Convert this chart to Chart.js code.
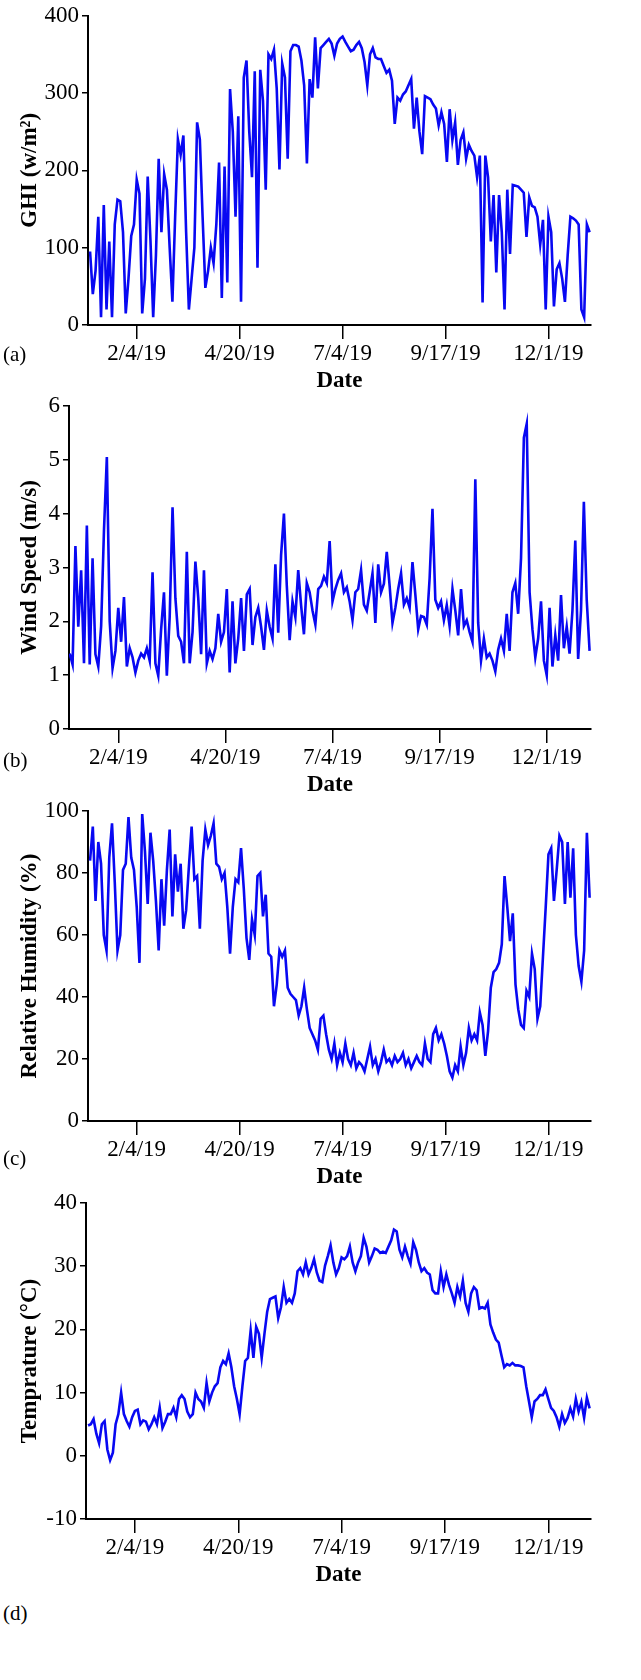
<!DOCTYPE html>
<html>
<head>
<meta charset="utf-8">
<script src="https://cdn.jsdelivr.net/npm/chart.js@4.4.1/dist/chart.umd.min.js"></script>
<style>
  body { margin: 0; background: #fff; width: 641px; height: 1680px; position: relative; overflow: hidden; font-family: "Liberation Serif", serif; }
  .box { position: absolute; left: 0; width: 641px; }
  .tag { position: absolute; left: 3px; font-size: 21px; line-height: 22px; color: #000; }
</style>
</head>
<body>
<div class="box" style="top:0px;height:397px"><canvas id="ghiChart"></canvas></div>
<div class="box" style="top:386px;height:415px"><canvas id="windChart"></canvas></div>
<div class="box" style="top:791px;height:402px"><canvas id="rhChart"></canvas></div>
<div class="box" style="top:1183px;height:408px"><canvas id="tempChart"></canvas></div>
<div class="tag" style="top:343px">(a)</div>
<div class="tag" style="top:749px">(b)</div>
<div class="tag" style="top:1147px">(c)</div>
<div class="tag" style="top:1602px">(d)</div>
<script>
// one reading every 2 days, starting 1 Jan 2019
var startDate = '2019-01-01';
var stepDays = 2;
var tickDates = ['2019-02-04', '2019-04-20', '2019-07-04', '2019-09-17', '2019-12-01'];
var tickLabels = ['2/4/19', '4/20/19', '7/4/19', '9/17/19', '12/1/19'];

var ghi = [
  95,40,70,140,10,155,20,108,10,130,
  162,160,120,15,60,115,130,188,170,15,
  60,192,110,10,90,215,120,195,175,100,
  30,140,240,220,245,120,20,60,100,262,
  240,140,48,70,100,80,130,210,35,205,
  55,305,250,140,270,30,320,342,250,191,
  328,74,330,290,175,350,344,356,306,201,
  338,320,215,354,362,362,360,342,310,209,
  318,294,372,306,358,362,366,370,364,348,
  364,370,373,366,360,354,356,362,366,358,
  340,310,350,358,346,344,344,335,326,330,
  316,260,294,290,298,302,310,318,254,294,
  250,221,296,294,292,285,280,258,275,260,
  211,279,239,262,207,239,249,215,233,225,
  219,191,219,29,219,191,108,168,68,168,
  120,20,175,92,181,180,179,175,171,114,
  165,154,152,140,104,136,20,140,120,24,
  72,80,60,30,90,140,138,135,130,20,
  10,130,120
];

var wind = [
  1.4,1.2,3.4,1.9,2.95,1.22,3.78,1.2,3.17,1.39,
  1.16,1.91,3.7,5.05,2.0,1.13,1.45,2.25,1.62,2.45,
  1.16,1.5,1.33,1.05,1.27,1.4,1.33,1.5,1.27,2.91,
  1.22,0.99,1.85,2.54,0.99,2.08,4.12,2.43,1.73,1.62,
  1.22,3.29,1.22,1.8,3.11,2.43,1.39,2.95,1.22,1.45,
  1.3,1.5,2.14,1.62,1.8,2.6,1.05,2.37,1.22,1.68,
  2.43,1.45,2.5,2.6,1.56,2.08,2.25,1.9,1.47,2.2,
  1.9,1.68,3.06,1.79,3.23,4.0,2.66,1.65,2.37,2.08,
  2.95,2.3,1.76,2.71,2.54,2.2,1.94,2.6,2.66,2.83,
  2.71,3.49,2.37,2.6,2.77,2.89,2.54,2.63,2.37,2.02,
  2.54,2.6,2.95,2.31,2.2,2.54,2.89,1.97,3.06,2.54,
  2.7,3.29,2.66,1.97,2.25,2.6,2.89,2.31,2.43,2.25,
  3.1,2.5,1.85,2.1,2.08,1.94,2.8,4.09,2.4,2.25,
  2.37,2.02,2.3,1.91,2.6,2.2,1.74,2.6,1.91,2.02,
  1.8,1.62,4.64,1.97,1.27,1.68,1.33,1.4,1.27,1.07,
  1.47,1.68,1.45,2.14,1.45,2.54,2.71,2.14,3.17,5.41,
  5.67,2.54,1.85,1.33,1.68,2.37,1.27,1.0,2.25,1.16,
  1.74,1.27,2.49,1.5,1.9,1.4,2.2,3.5,1.3,2.2,
  4.22,2.4,1.45
];

var humidity = [
  84,95,71,90,83,60,55,85,96,77,
  55,60,81,83,98,85,81,69,51,99,
  87,70,93,84,71,55,78,63,81,94,
  66,86,74,83,62,68,82,95,78,79,
  62,84,94,89,92,96,83,82,78,80,
  69,54,69,78,77,88,75,59,52,65,
  60,79,80,66,73,54,53,37,44,55,
  53,55,43,41,40,39,34,37,43,36,
  30,28,26,23,33,34,28,23,20,25,
  18,22,19,25,20,18,22,17,19,18,
  16,20,24,18,20,16,19,23,19,20,
  18,21,19,20,22,18,20,17,19,21,
  19,18,25,20,19,28,30,26,28,25,
  21,16,14,18,16,24,18,22,30,26,
  28,26,35,31,21,29,43,48,49,51,
  57,79,69,58,67,44,36,31,30,42,
  40,54,49,33,37,53,69,86,88,71,
  81,92,90,70,90,72,88,60,50,45,
  55,93,72
];

var temperature = [
  4.8,5.0,5.8,3.5,2.0,5.0,5.5,1.0,-0.7,0.5,
  5.0,6.6,10.0,6.6,5.5,4.6,6.1,7.1,7.3,5.0,
  5.6,5.4,4.2,5.0,6.1,5.0,7.6,4.4,5.4,6.6,
  6.6,7.6,6.1,9.0,9.6,9.0,7.0,6.1,6.6,10.0,
  9.0,8.6,7.6,11.5,8.6,10.0,11.0,11.5,14.0,15.0,
  14.5,16.2,14.0,11.0,9.0,6.6,11.0,15.0,15.5,19.8,
  15.5,20.4,19.3,15.5,19.3,22.8,24.8,25.0,25.2,21.8,
  23.5,26.7,24.2,24.8,24.2,25.7,29.2,29.7,28.7,30.6,
  28.7,29.7,31.1,29.0,27.7,27.5,30.1,31.6,33.3,30.6,
  28.7,29.7,31.4,31.1,31.6,33.1,30.6,29.2,30.6,31.6,
  34.5,33.1,30.6,31.6,32.8,32.6,32.1,32.3,32.1,33.1,
  34.1,35.8,35.5,32.6,31.4,33.1,31.6,30.4,33.8,32.6,
  30.6,29.2,29.7,29.0,28.7,26.2,25.7,25.7,29.2,26.7,
  28.7,27.0,25.7,24.2,26.7,25.2,27.7,24.2,22.8,25.7,
  26.7,26.2,23.3,23.5,23.3,24.2,20.8,19.5,18.4,17.9,
  15.9,14.0,14.5,14.3,14.7,14.3,14.3,14.2,14.0,11.0,
  8.6,6.1,8.6,9.0,9.6,9.6,10.5,9.0,7.6,7.1,
  6.1,4.6,6.6,5.2,6.0,7.5,6.2,9.0,7.0,8.5,
  6.0,9.2,7.5
];

function dayOf(s) {
  return Math.round((Date.parse(s) - Date.parse(startDate)) / 86400000);
}
var tickDays = tickDates.map(dayOf);

var fam = '"Liberation Serif", serif';
var boldFont = { family: fam, size: 23, weight: 'bold' };

function makePanel(id, values, yTitle, yMin, yMax, yStep, axisX, padTop, xMin) {
  var pts = values.map(function (v, i) { return { x: i * stepDays, y: v }; });
  return new Chart(document.getElementById(id), {
    type: 'line',
    data: { datasets: [{ data: pts, borderColor: '#0808f2', borderWidth: 2.6, pointRadius: 0, tension: 0, fill: false }] },
    options: {
      responsive: true,
      maintainAspectRatio: false,
      animation: false,
      layout: { padding: { top: padTop, right: 50, bottom: 2, left: 0 } },
      plugins: { legend: { display: false }, tooltip: { enabled: false } },
      scales: {
        x: {
          type: 'linear', min: xMin, max: 365,
          afterBuildTicks: function (s) { s.ticks = tickDays.map(function (d) { return { value: d }; }); },
          afterFit: function (s) { s.height = 70; },
          grid: { drawOnChartArea: false, drawTicks: true, tickLength: 14, color: '#000', lineWidth: 1.5 },
          border: { display: true, color: '#000', width: 2 },
          ticks: { color: '#000', font: { family: fam, size: 23, lineHeight: 1.1 }, padding: 2, maxRotation: 0, autoSkip: false,
            callback: function (v) { return tickLabels[tickDays.indexOf(v)]; } },
          title: { display: true, text: 'Date', color: '#000', font: boldFont, padding: { top: 0, bottom: 0 } }
        },
        y: {
          min: yMin, max: yMax,
          afterFit: function (s) { s.width = axisX; },
          grid: { drawOnChartArea: false, drawTicks: true, tickLength: 6, color: '#000', lineWidth: 1.5 },
          border: { display: true, color: '#000', width: 2 },
          ticks: { stepSize: yStep, color: '#000', font: { family: fam, size: 23, lineHeight: 1.1 }, padding: 3 },
          title: { display: true, text: yTitle, color: '#000', font: boldFont, padding: { top: 16, bottom: 0 } }
        }
      }
    }
  });
}

makePanel('ghiChart', ghi, 'GHI (w/m²)', 0, 400, 100, 88, 13, -1.5);
makePanel('windChart', wind, 'Wind Speed (m/s)', 0, 6, 1, 69, 20, -0.5);
makePanel('rhChart', humidity, 'Relative Humidity (%)', 0, 100, 20, 88, 20, -1.5);
makePanel('tempChart', temperature, 'Temprature (°C)', -10, 40, 10, 86, 20, -1.5);
</script>
</body>
</html>
